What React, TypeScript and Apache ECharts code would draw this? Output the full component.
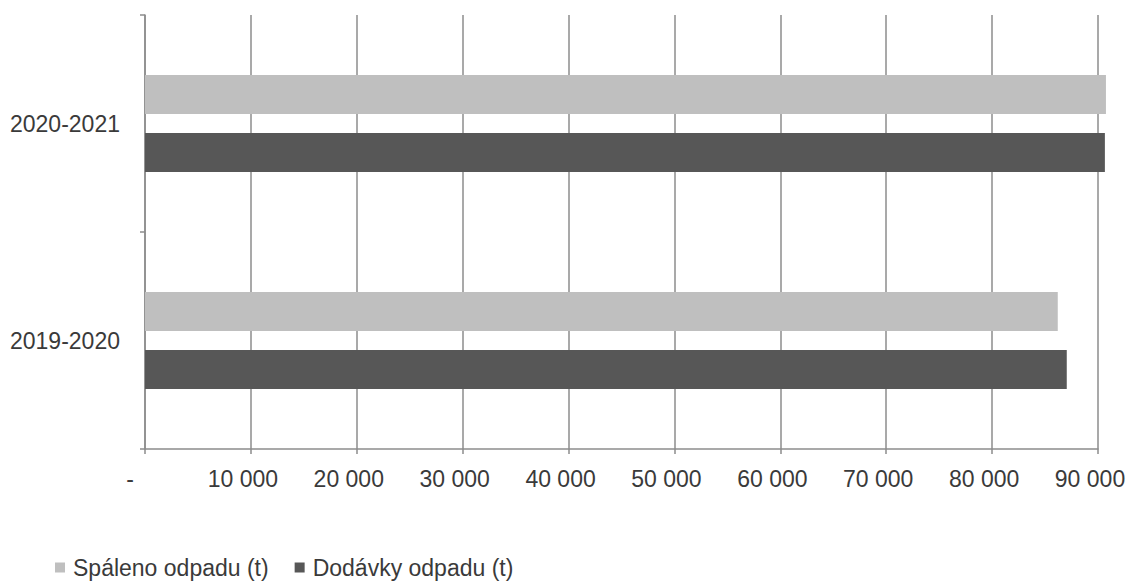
import React, { useEffect, useRef } from "react";
import * as echarts from "echarts";

const categories = ["2019-2020", "2020-2021"];
const spalenoName = "Spáleno odpadu (t)";
const dodavkyName = "Dodávky odpadu (t)";
const spalenoValues = [86200, 90750];
const dodavkyValues = [87050, 90650];
const axisMin = 0;
const axisMax = 90000;
const axisInterval = 10000;

const FONT = "'Liberation Sans', Arial, sans-serif";
const TEXT = "#3a3a3a";
const GRID = "#8c8c8c";

function fmt(v: number): string {
  if (v === 0) return "{z|-}";
  return String(v).replace(/\B(?=(\d{3})+(?!\d))/g, " ");
}

export default function App() {
  const ref = useRef<HTMLDivElement>(null);
  useEffect(() => {
    if (!ref.current) return;
    const chart = echarts.init(ref.current, undefined, { renderer: "svg" });
    chart.setOption({
      animation: false,
      backgroundColor: "#ffffff",
      grid: { left: 145, right: 30, top: 15, bottom: 133, containLabel: false, outerBoundsMode: "none" },
      legend: {
        data: [spalenoName, dodavkyName],
        left: 50,
        top: 551,
        itemWidth: 10,
        itemHeight: 10,
        itemGap: 26,
        icon: "rect",
        textStyle: { fontFamily: FONT, fontSize: 23, color: TEXT, padding: [0, 0, 0, 3] },
      },
      xAxis: {
        type: "value",
        min: axisMin,
        max: axisMax,
        interval: axisInterval,
        axisLine: { show: true, lineStyle: { color: GRID, width: 1.5 } },
        axisTick: { show: true, length: 5, lineStyle: { color: GRID, width: 1.5 } },
        splitLine: { show: true, lineStyle: { color: GRID, width: 1.5 } },
        axisLabel: {
          formatter: fmt,
          margin: 18,
          fontFamily: FONT,
          fontSize: 23,
          color: TEXT,
          hideOverlap: false,
          padding: [0, 16, 0, 0],
          rich: { z: { fontFamily: FONT, fontSize: 23, color: TEXT, padding: [0, 14, 0, 0] } },
        },
      },
      yAxis: {
        type: "category",
        data: categories,
        axisLine: { show: true, lineStyle: { color: GRID, width: 1.5 } },
        axisTick: { show: true, length: 5, lineStyle: { color: GRID, width: 1.5 } },
        axisLabel: { margin: 25, fontFamily: FONT, fontSize: 23, color: TEXT },
        splitLine: { show: false },
      },
      series: [
        {
          name: spalenoName,
          type: "bar",
          data: spalenoValues,
          barWidth: 39,
          barGap: "49%",
          clip: false,
          itemStyle: { color: "#bfbfbf" },
        },
        {
          name: dodavkyName,
          type: "bar",
          data: dodavkyValues,
          barWidth: 39,
          barGap: "49%",
          clip: false,
          itemStyle: { color: "#575757" },
        },
      ],
    });
    return () => chart.dispose();
  }, []);
  return <div ref={ref} style={{ width: 1128, height: 582, position: "absolute", left: 0, top: 0 }} />;
}
